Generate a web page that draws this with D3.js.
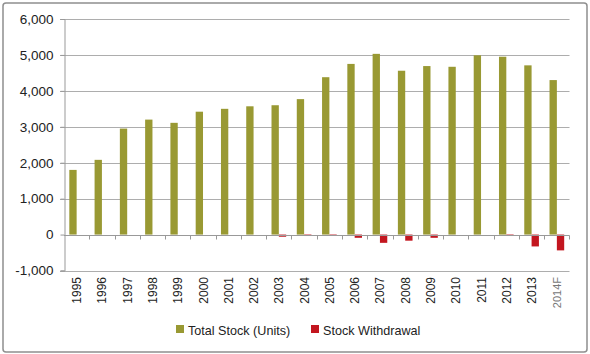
<!DOCTYPE html>
<html><head><meta charset="utf-8">
<script src="https://cdn.jsdelivr.net/npm/d3@7"></script>
<style>body{margin:0;background:#fff}svg{display:block;font-family:"Liberation Sans",Arial,sans-serif}</style>
</head><body><svg id="c" width="590" height="354"></svg>
<script>
const years = ["1995","1996","1997","1998","1999","2000","2001","2002","2003","2004","2005","2006","2007","2008","2009","2010","2011","2012","2013","2014F"];
const totalStock = [1800,2080,2950,3200,3110,3420,3500,3570,3600,3770,4380,4750,5030,4560,4690,4670,4990,4950,4710,4300];
const withdrawal = [0,0,0,0,0,0,0,0,-60,-40,-20,-90,-230,-170,-90,0,0,-40,-330,-440];
const yTicks = [-1000,0,1000,2000,3000,4000,5000,6000];
const seriesNames = ["Total Stock (Units)","Stock Withdrawal"];
const colors = ["#999933","#c3161f"];

const svg = d3.select("#c");
svg.append("rect").attr("x",3).attr("y",3).attr("width",584).attr("height",349).attr("rx",3)
  .attr("fill","#fff").attr("stroke","#8f8f8f").attr("stroke-width",1.5);

const left=64, right=569.5;
const y = d3.scaleLinear().domain([-1000,6000]).range([270.5,19]);
const x0 = d3.scaleBand().domain(years).range([left,right]).paddingInner(0.42).paddingOuter(0.21);
const x1 = d3.scaleBand().domain([0,1]).range([0,x0.bandwidth()]);
const step = x0.step();

// gridlines
svg.append("g").selectAll("line").data(yTicks.filter(d=>d!==0)).join("line")
  .attr("x1",left-4).attr("x2",right).attr("y1",d=>Math.round(y(d))+0.5).attr("y2",d=>Math.round(y(d))+0.5)
  .attr("stroke","#adadad").attr("stroke-width",1);

// y axis
const fmt = d3.format(",");
const ya = svg.append("g").attr("transform",`translate(${left+0.5},0)`)
  .call(d3.axisLeft(y).tickValues(yTicks).tickSize(4).tickFormat(d=>fmt(d).replace("\u2212","-")));
ya.select(".domain").attr("stroke","#999");
ya.selectAll(".tick line").attr("stroke","#999");
ya.selectAll(".tick text").attr("font-size","13.5px").attr("fill","#222").attr("x",-11)
  .attr("font-family","Liberation Sans, Arial, sans-serif");

// bars
const g = svg.append("g");
years.forEach((yr,i)=>{
  [totalStock[i],withdrawal[i]].forEach((v,s)=>{
    if(v===0) return;
    g.append("rect").attr("x",x0(yr)+x1(s)).attr("width",x1.bandwidth())
      .attr("y",y(Math.max(0,v))).attr("height",Math.abs(y(v)-y(0)))
      .attr("fill",colors[s]);
  });
});

// x axis at zero
const y0 = Math.round(y(0))+0.5;
svg.append("line").attr("x1",left).attr("x2",right).attr("y1",y0).attr("y2",y0).attr("stroke","#999");
const bounds = years.map(d=>x0(d)-step*x0.paddingInner()/2 + step);
svg.append("g").selectAll("line").data(bounds).join("line")
  .attr("x1",d=>Math.round(d)+0.5).attr("x2",d=>Math.round(d)+0.5).attr("y1",y0).attr("y2",y0+4).attr("stroke","#999");

// x labels
svg.append("g").selectAll("text").data(years).join("text")
  .attr("transform",d=>`translate(${x0(d)+x0.bandwidth()/2+4.5},277) rotate(-90)`)
  .attr("text-anchor","end").attr("font-size",d=>d==="2014F"?"11px":"12px")
  .attr("fill",d=>d==="2014F"?"#777":"#222").text(d=>d);

// legend
const leg = svg.append("g");
const lx = [176,311];
seriesNames.forEach((n,i)=>{
  leg.append("rect").attr("x",lx[i]).attr("y",325).attr("width",8).attr("height",8).attr("fill",colors[i]);
  leg.append("text").attr("x",lx[i]+12).attr("y",335).attr("font-size","12.6px").attr("fill","#222").text(n);
});
</script></body></html>
